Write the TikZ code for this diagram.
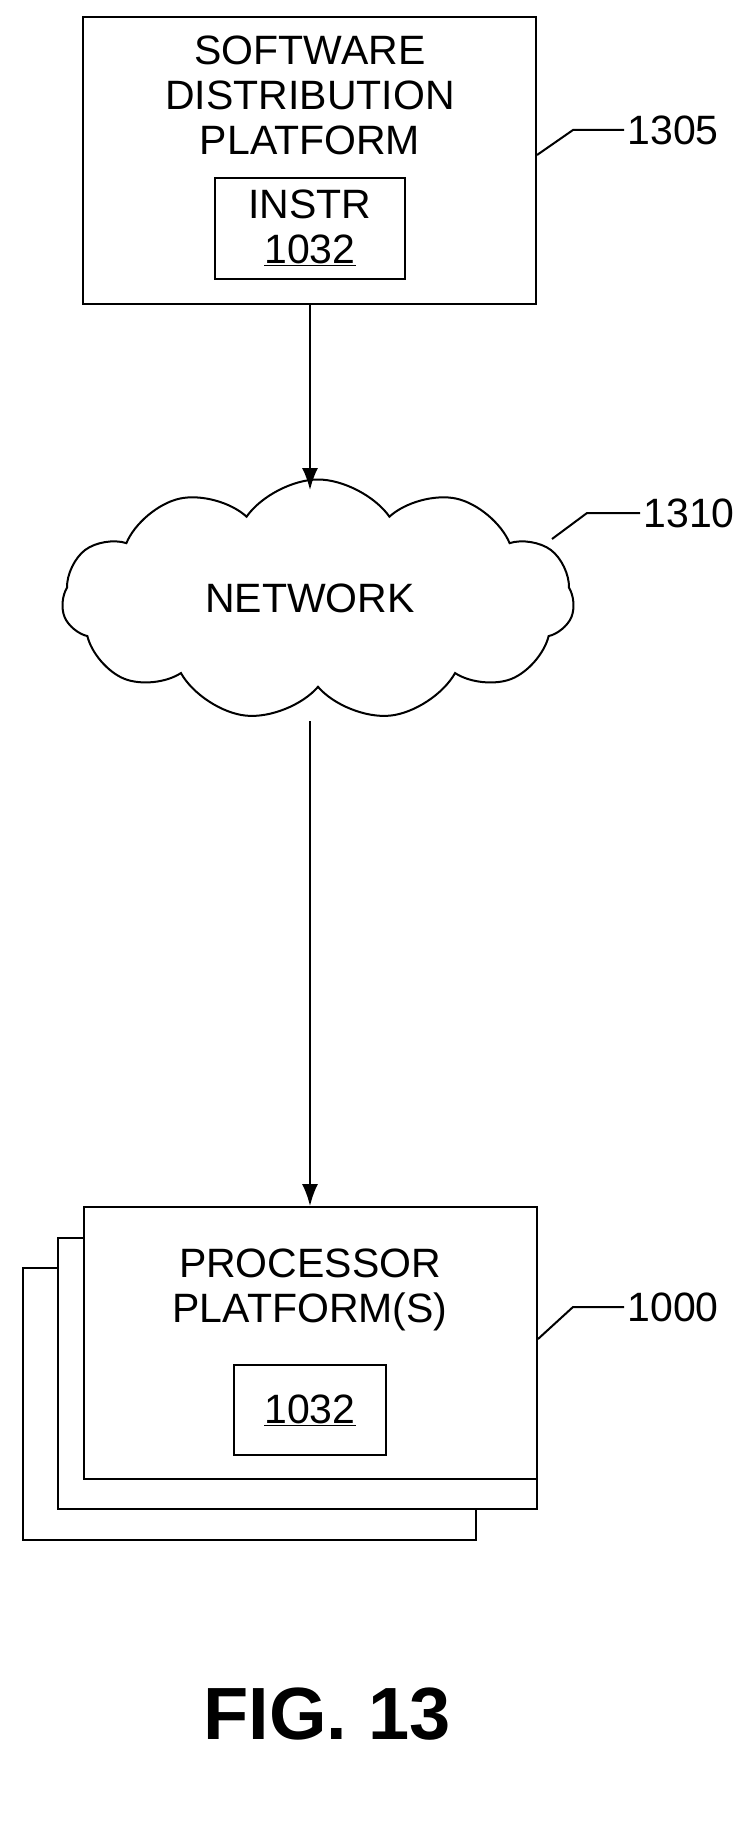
\documentclass[tikz,border=0pt]{standalone}
\usepackage{fontspec}
\setmainfont{Liberation Sans}
\usetikzlibrary{positioning, calc, shapes.symbols}
\tikzset{box/.style={draw, line width=2pt, fill=white, inner sep=0pt},
  lbl/.style={font=\fontsize{41}{45}\selectfont, align=center},
  lead/.style={line width=2pt},
  flow/.style={line width=2pt, -{Latex[length=22pt, width=16pt]}}}
\usetikzlibrary{arrows.meta}
\begin{document}
\begin{tikzpicture}[x=1pt, y=-1pt]
      \useasboundingbox (0,0) rectangle (750,1833);

      % BOXES

      \node[box, minimum width=453pt, minimum height=287pt] (sdp) at (309.5,160.5) {};
      \node[box, minimum width=190pt, minimum height=101pt] (instr) at (310,228.5) {};
      \node[cloud, draw, line width=2pt, cloud puffs=11, cloud puff arc=110, aspect=2.1,
            minimum width=512pt, minimum height=241pt, inner sep=0pt] (net) at (318,600) {};
      \node[box, minimum width=453pt, minimum height=272pt, anchor=north west] (pp3) at (22,1267) {};
      \node[box, minimum width=479pt, minimum height=271pt, anchor=north west] (pp2) at (57,1237) {};
      \node[box, minimum width=453pt, minimum height=272pt, anchor=north west] (pp) at (83,1206) {};
      \node[box, minimum width=152pt, minimum height=90pt] (code) at (310,1410) {};

      % LABELS

      \node[lbl] (sdpLabel) at (310,95) {SOFTWARE\\DISTRIBUTION\\PLATFORM};
      \node[lbl] (instrLabel) at (310,228) {INSTR\\\underline{1032}};
      \node[lbl] (netLabel) at (310,598) {NETWORK};
      \node[lbl] (ppLabel) at (310,1290) {PROCESSOR\\PLATFORM(S)};
      \node[lbl] (codeLabel) at (310,1410) {\underline{1032}};
      \node[lbl, anchor=west] (refA) at (624,130) {1305};
      \node[lbl, anchor=west] (refB) at (640,513) {1310};
      \node[lbl, anchor=west] (refC) at (624,1307) {1000};
      \node[font=\bfseries\fontsize{74}{74}\selectfont] (fig) at (327,1714) {FIG. 13};

      % LEADERS
      \draw[lead] (sdp.east |- 0,155) -- (573,130) -- (refA.west);
      \draw[lead] (552,539) -- (587,513) -- (refB.west);
      \draw[lead] (pp.east |- 0,1339) -- (573,1307) -- (refC.west);

      % ARCS
      \draw[flow] (sdp.south -| 310,0) -- (310,490);
      \draw[flow] (310,721) -- (pp.north -| 310,0);

    \end{tikzpicture}
\end{document}
